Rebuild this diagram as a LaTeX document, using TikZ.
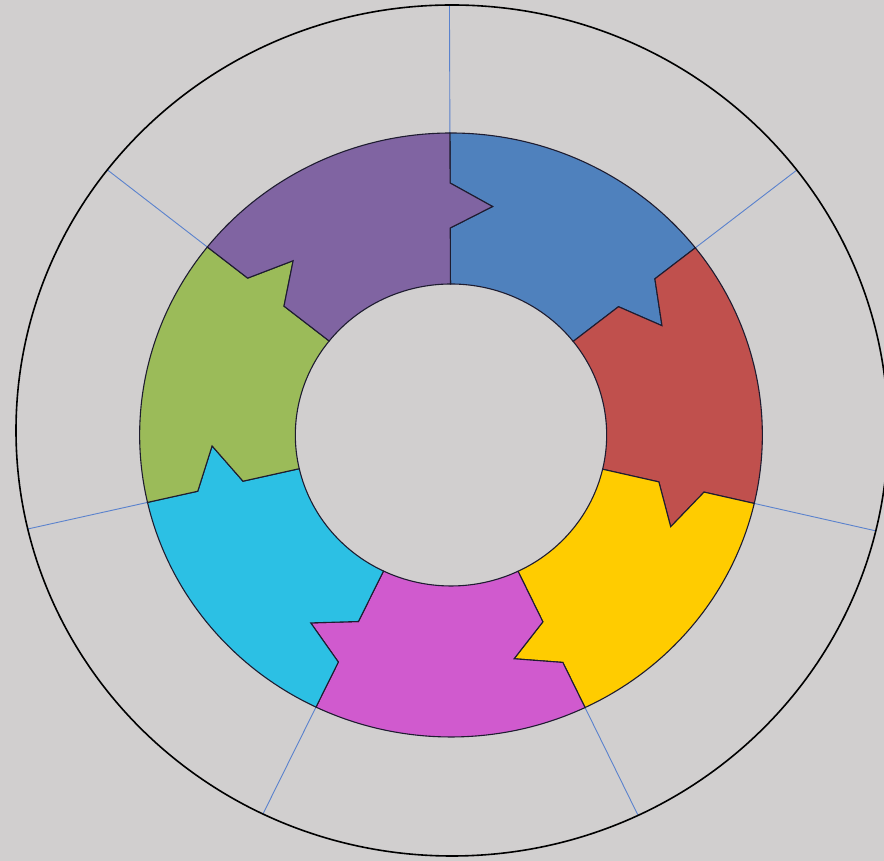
\documentclass[tikz,border=0pt]{standalone}
\definecolor{bg}{RGB}{209,207,207}
\definecolor{cblue}{RGB}{79,129,189}
\definecolor{cred}{RGB}{192,80,77}
\definecolor{cyellow}{RGB}{255,204,0}
\definecolor{cmag}{RGB}{208,90,206}
\definecolor{ccyan}{RGB}{44,192,228}
\definecolor{cgreen}{RGB}{155,187,89}
\definecolor{cpurple}{RGB}{128,100,162}
\definecolor{cedge}{RGB}{30,28,48}
\definecolor{cspoke}{RGB}{90,130,205}
\begin{document}
\begin{tikzpicture}[x=1pt,y=1pt,
  seg/.style={draw=cedge, line width=1.1pt, line join=miter},
  spoke/.style={draw=cspoke, line width=0.9pt},
  rim/.style={draw=black, line width=1.6pt}]
\useasboundingbox (0,0) rectangle (884,861);
\fill[bg] (0,0) rectangle (884,861);
\coordinate (oc) at (452,430.5);
\coordinate (rc) at (451,426);
% spokes between ring and outer circle
\begin{scope}
  \clip (oc) ellipse [x radius=436pt, y radius=425.5pt];
  \begin{scope}[shift={(rc)}, xscale=1.031]
    \foreach \a in {90.2,38.3,-13.1,-64.5,-115.7,-167.1,141.5}
      \draw[spoke] (\a:302pt) -- (\a:540pt);
  \end{scope}
\end{scope}
\draw[rim] (oc) ellipse [x radius=436pt, y radius=425.5pt];
% ring segments
\begin{scope}[shift={(rc)}, xscale=1.031]
  \foreach \a/\b/\c in {90.2/38.3/cblue, 38.3/-13.1/cred, -13.1/-64.5/cyellow,
                        -64.5/-115.7/cmag, -115.7/-167.1/ccyan,
                        -167.1/-218.5/cgreen, 141.5/90.2/cpurple}{
    \pgfmathsetmacro{\ta}{\a-10.2}
    \pgfmathsetmacro{\tb}{\b-10.2}
    \path[seg, fill=\c] (\a:302pt) -- (\a:252pt) -- (\ta:232pt) -- (\a:207pt) -- (\a:151pt)
      arc[start angle=\a, end angle=\b, radius=151pt]
      -- (\b:207pt) -- (\tb:232pt) -- (\b:252pt) -- (\b:302pt)
      arc[start angle=\b, end angle=\a, radius=302pt] -- cycle;
  }
\end{scope}
\end{tikzpicture}
\end{document}
